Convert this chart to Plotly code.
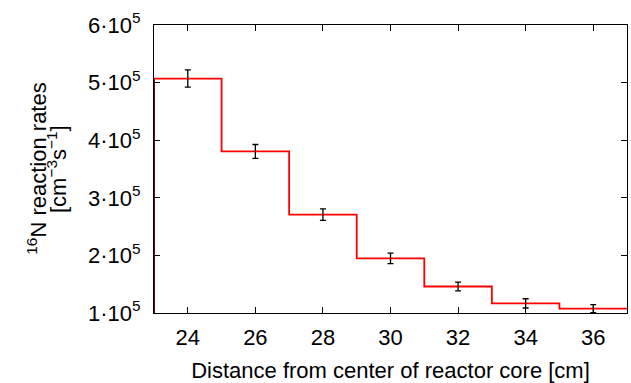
import plotly.graph_objects as go

# Data
centers = [24, 26, 28, 30, 32, 34, 36]
edges = [23, 25, 27, 29, 31, 33, 35, 37]
rates = [5.07e5, 3.805e5, 2.707e5, 1.948e5, 1.46e5, 1.167e5, 1.075e5]
errors = [1.5e4, 1.2e4, 1.0e4, 0.9e4, 0.75e4, 0.8e4, 0.7e4]

x_ticks = [24, 26, 28, 30, 32, 34, 36]
y_ticks = [1e5, 2e5, 3e5, 4e5, 5e5, 6e5]
y_ticktext = ["%d·10<sup>5</sup>" % int(v / 1e5) for v in y_ticks]

FONT = "Liberation Sans, Arial, sans-serif"
fig = go.Figure()

# left edge of histogram (rising from baseline), appears dark red over the axis
fig.add_trace(go.Scatter(
    x=[edges[0], edges[0]], y=[y_ticks[0], rates[0]],
    mode="lines", line=dict(color="#5c0a0a", width=2), showlegend=False,
    hoverinfo="skip", cliponaxis=False))

# step histogram
fig.add_trace(go.Scatter(
    x=edges, y=rates + [rates[-1]],
    mode="lines", line=dict(color="#ff0000", width=1.8, shape="hv"),
    showlegend=False, cliponaxis=False))

# error bars
fig.add_trace(go.Scatter(
    x=centers, y=rates, mode="markers",
    marker=dict(size=0.1, color="black", opacity=0),
    error_y=dict(type="data", array=errors, visible=True,
                 color="black", thickness=1.3, width=3),
    showlegend=False))

axis_common = dict(
    showline=True, linecolor="black", linewidth=1, mirror="ticks",
    ticks="inside", ticklen=6, tickcolor="black", tickwidth=1,
    showgrid=False, zeroline=False,
    tickfont=dict(family=FONT, size=22, color="black"),
)

fig.update_xaxes(range=[23, 37], tickvals=x_ticks, **axis_common,
                 layer="below traces", ticklabelstandoff=5,
                 title=dict(text="Distance from center of reactor core [cm]",
                            font=dict(family=FONT, size=22, color="black"),
                            standoff=14))
fig.update_yaxes(range=[1e5, 6e5], tickvals=y_ticks, ticktext=y_ticktext,
                 ticklabelstandoff=8, layer="below traces", **axis_common)

fig.add_annotation(text="<sup>16</sup>N reaction rates", textangle=-90,
                   xref="paper", yref="paper", x=-0.248, y=0.5,
                   xanchor="center", yanchor="middle", showarrow=False,
                   font=dict(family=FONT, size=22, color="black"))
fig.add_annotation(text="[cm<sup>−3</sup>s<sup>−1</sup>]", textangle=-90,
                   xref="paper", yref="paper", x=-0.205, y=0.5,
                   xanchor="center", yanchor="middle", showarrow=False,
                   font=dict(family=FONT, size=22, color="black"))

fig.update_layout(
    width=631, height=383,
    margin=dict(l=154, r=3, t=25, b=68),
    paper_bgcolor="white", plot_bgcolor="white",
    font=dict(family=FONT, size=22, color="black"),
)

fig.write_html("out.html")
